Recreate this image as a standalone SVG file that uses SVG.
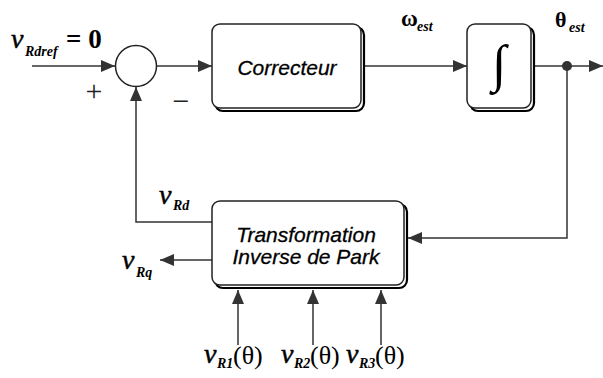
<svg xmlns="http://www.w3.org/2000/svg" width="603" height="378" viewBox="0 0 603 378">
<style>
.ln{fill:none;stroke:#333;stroke-width:1.5}
.box{fill:#fff;stroke:#222;stroke-width:1.5}
.sh{fill:#fff;stroke:#000;stroke-width:2.2}
.lbl{font-family:"Liberation Sans",Arial,sans-serif;font-style:italic;font-size:21px;fill:#000;stroke:#000;stroke-width:0.3}
.m{font-family:"Liberation Serif","Times New Roman",serif;fill:#000}
.v{font-style:italic;font-size:28px;stroke:#000;stroke-width:0.5}
.sub{font-style:italic;font-weight:bold;font-size:14px}
.sg{font-family:"Liberation Serif","Times New Roman",serif;font-size:30px;fill:#222}
</style>
<defs>
<marker id="ah" markerUnits="userSpaceOnUse" markerWidth="14" markerHeight="12" refX="14" refY="6" orient="auto">
<path d="M0,0 L14,6 L0,12 z" fill="#333"/>
</marker>
</defs>
<rect width="603" height="378" fill="#fff"/>
<g id="connectors">
<line class="ln" x1="32" y1="66" x2="115" y2="66" marker-end="url(#ah)"/>
<line class="ln" x1="157" y1="66" x2="212" y2="66" marker-end="url(#ah)"/>
<line class="ln" x1="364" y1="66" x2="467" y2="66" marker-end="url(#ah)"/>
<line class="ln" x1="534" y1="66" x2="603" y2="66" marker-end="url(#ah)"/>
<polyline class="ln" points="567,66 567,238 408,238" marker-end="url(#ah)"/>
<polyline class="ln" points="212,222 136,222 136,87" marker-end="url(#ah)"/>
<line class="ln" x1="212" y1="260" x2="160" y2="260" marker-end="url(#ah)"/>
<line class="ln" x1="238" y1="345" x2="238" y2="290" marker-end="url(#ah)"/>
<line class="ln" x1="313" y1="345" x2="313" y2="290" marker-end="url(#ah)"/>
<line class="ln" x1="381" y1="345" x2="381" y2="290" marker-end="url(#ah)"/>
<circle cx="567" cy="66" r="5" fill="#333"/>
</g>
<g id="input-label">
<text class="m v" x="11" y="48">v</text>
<text class="m sub" x="25" y="56">Rdref</text>
<text class="m" x="66" y="48" font-size="27" font-weight="bold">= 0</text>
</g>
<g id="sum">
<circle cx="136" cy="66" r="20.5" fill="#fff" stroke="#222" stroke-width="1.5"/>
<text class="sg" x="94" y="101" text-anchor="middle">+</text>
<text class="sg" x="181" y="111" text-anchor="middle">−</text>
</g>
<g id="correcteur">
<rect class="sh" x="215" y="27" width="149" height="84" rx="8"/>
<rect class="box" x="212" y="24" width="149" height="84" rx="8"/>
<text class="lbl" x="287" y="75" text-anchor="middle" font-size="21.5">Correcteur</text>
</g>
<g id="omega-label">
<text class="m" x="401" y="26" font-size="23" font-weight="bold">ω</text>
<text class="m sub" x="417" y="31" font-size="13">est</text>
</g>
<g id="integrateur">
<rect class="sh" x="470" y="27" width="64" height="84" rx="8"/>
<rect class="box" x="467" y="24" width="64" height="84" rx="8"/>
<text class="m" x="499" y="81" font-size="52" font-weight="bold" text-anchor="middle">∫</text>
</g>
<g id="theta-label">
<text class="m" x="555" y="27" font-size="22" font-weight="bold">θ</text>
<text class="m sub" x="569" y="32" font-size="13">est</text>
</g>
<g id="park">
<rect class="sh" x="215" y="204" width="192" height="84" rx="8"/>
<rect class="box" x="212" y="201" width="192" height="84" rx="8"/>
<text class="lbl" x="306" y="242" text-anchor="middle">Transformation</text>
<text class="lbl" x="306" y="264" text-anchor="middle">Inverse de Park</text>
</g>
<g id="vRd-label">
<text class="m v" x="159" y="204">v</text>
<text class="m sub" x="173" y="210">Rd</text>
</g>
<g id="vRq-label">
<text class="m v" x="122" y="269">v</text>
<text class="m sub" x="136" y="277">Rq</text>
</g>
<g id="vR1-label">
<text class="m v" x="204" y="363" font-size="26">v</text>
<text class="m sub" x="217" y="368">R1</text>
<text class="m" x="233" y="364" font-size="26">(θ)</text>
</g>
<g id="vR2-label">
<text class="m v" x="281" y="363" font-size="26">v</text>
<text class="m sub" x="294" y="368">R2</text>
<text class="m" x="310" y="364" font-size="26">(θ)</text>
</g>
<g id="vR3-label">
<text class="m v" x="346" y="363" font-size="26">v</text>
<text class="m sub" x="359" y="368">R3</text>
<text class="m" x="375" y="364" font-size="26">(θ)</text>
</g>
</svg>
